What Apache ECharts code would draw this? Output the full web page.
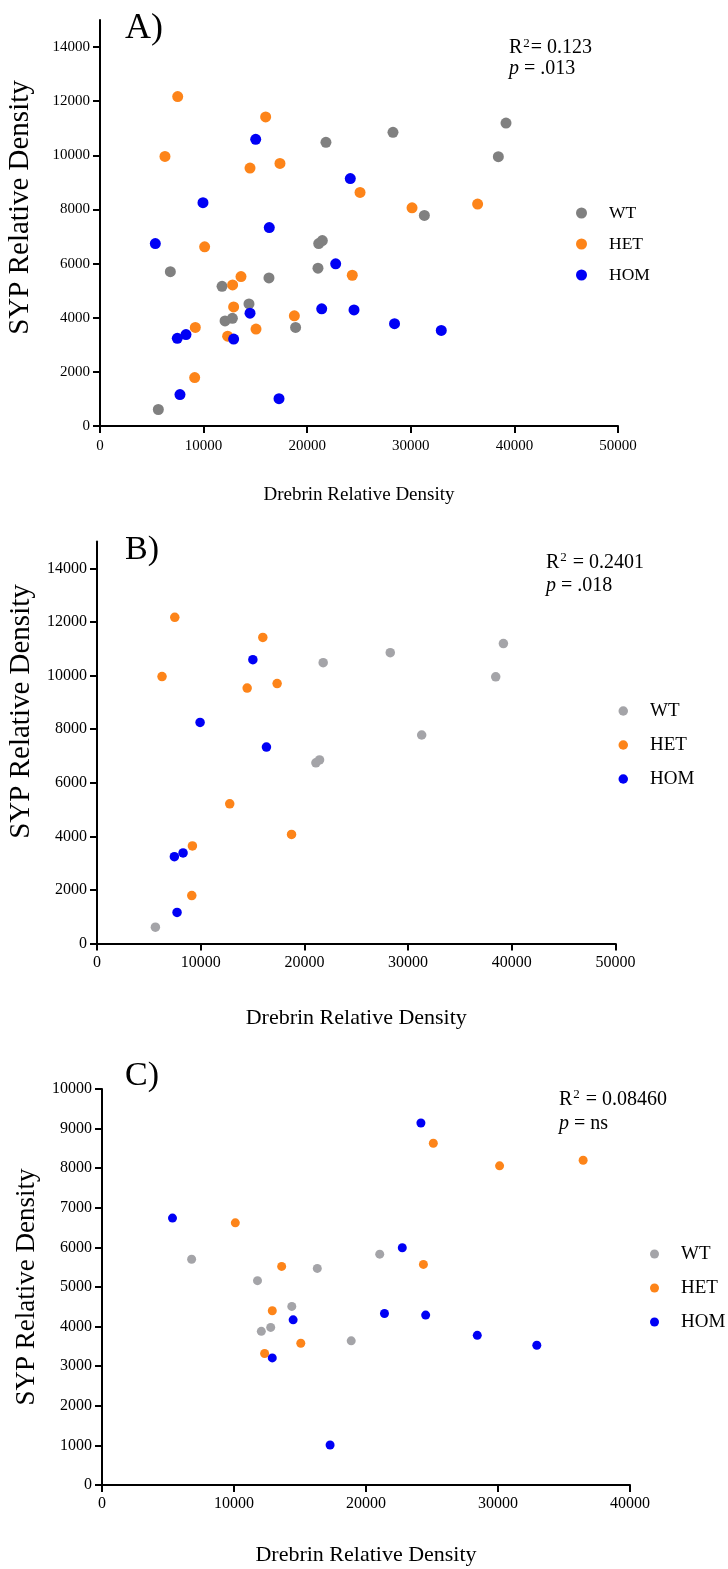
<!DOCTYPE html>
<html>
<head>
<meta charset="utf-8">
<script src="https://cdn.jsdelivr.net/npm/echarts@6/dist/echarts.min.js"></script>
<style>
  html, body { margin: 0; padding: 0; background: #fff; }
  #chart { width: 728px; height: 1569px; }
</style>
</head>
<body>
<div id="chart"></div>
<script>
// points are [drebrin relative density, SYP relative density]
// panel B
var wtB  = [[5630,610],[21110,6740],[21460,6850],[21810,10480],[28280,10850],[31310,7780],[38450,9950],[39190,11190]];
var hetB = [[6270,9960],[7500,12170],[9140,1790],[9200,3640],[12800,5210],[14480,9530],[15990,11420],[17370,9700],[18760,4070]];
var homB = [[7460,3240],[7720,1160],[8300,3380],[9940,8250],[15030,10590],[16340,7330]];
// panel C
var wtC  = [[6790,5700],[11780,5160],[12070,3880],[12780,3980],[14380,4510],[16310,5470],[18880,3640],[21040,5830]];
var hetC = [[10100,6620],[12320,3320],[12900,4400],[13610,5520],[15060,3580],[24350,5570],[25100,8630],[30120,8060],[36450,8200]];
var homC = [[5340,6740],[12900,3210],[14480,4170],[17280,1010],[21400,4330],[22750,5990],[24160,9140],[24520,4290],[28430,3780],[32940,3530]];
// panel A pools all animals
var wtA  = wtB.concat(wtC);
var hetA = hetB.concat(hetC);
var homA = homB.concat(homC);

var groups = ['WT', 'HET', 'HOM'];
var ticksAY = [0, 2000, 4000, 6000, 8000, 10000, 12000, 14000];
var ticksCY = [0, 1000, 2000, 3000, 4000, 5000, 6000, 7000, 8000, 9000, 10000];

var FONT = "'Liberation Serif', 'Times New Roman', serif";
var grayA = '#808080', grayBC = '#a4a4a8', orange = '#fd8419', blue = '#0000f5';

function plain(v) { return String(v); }

function xAxisCfg(idx, max, labelSize, labelMargin, nameSize, gap) {
  return {
    type: 'value', gridIndex: idx, min: 0, max: max, interval: 10000,
    name: 'Drebrin Relative Density', nameLocation: 'middle', nameGap: gap,
    nameTextStyle: { fontFamily: FONT, fontSize: nameSize, color: '#000' },
    axisLine: { lineStyle: { color: '#000', width: 2 } },
    axisTick: { show: true, length: 7, lineStyle: { color: '#000', width: 2 } },
    axisLabel: { fontFamily: FONT, fontSize: labelSize, color: '#000', margin: labelMargin, formatter: plain },
    splitLine: { show: false }
  };
}

function yAxisCfg(idx, max, interval, ticks, labelSize, nameSize, gap, shift) {
  return {
    type: 'value', gridIndex: idx, min: 0, max: max, interval: interval,
    name: 'SYP Relative Density', nameLocation: 'middle', nameGap: gap,
    nameTextStyle: { fontFamily: FONT, fontSize: nameSize, color: '#000', padding: [0, 0, 0, shift] },
    axisLine: { onZero: false, lineStyle: { color: '#000', width: 2 } },
    axisTick: { show: true, length: 7, customValues: ticks, lineStyle: { color: '#000', width: 2 } },
    axisLabel: { fontFamily: FONT, fontSize: labelSize, color: '#000', margin: 10, customValues: ticks, formatter: plain },
    splitLine: { show: false }
  };
}

function scatter(name, data, idx, color, size) {
  return {
    type: 'scatter', name: name, data: data, xAxisIndex: idx, yAxisIndex: idx,
    symbolSize: size, itemStyle: { color: color, opacity: 1 }
  };
}

function legendCfg(left, top, size, gap, fontSize, gray) {
  var colors = [gray, orange, blue];
  return {
    orient: 'vertical', left: left, top: top, padding: 0, icon: 'circle',
    itemWidth: size, itemHeight: size, itemGap: gap, selectedMode: false,
    textStyle: { fontFamily: FONT, fontSize: fontSize, lineHeight: 20, color: '#000', padding: [0, 0, 0, 17] },
    data: groups.map(function (g, i) { return { name: g, itemStyle: { color: colors[i] } }; })
  };
}

var statRich = {
  r: { fontFamily: FONT, fontSize: 20, fontWeight: 'normal', color: '#000' },
  s: { fontFamily: FONT, fontSize: 13, fontWeight: 'normal', color: '#000', verticalAlign: 'top', padding: [0, 1, 0, 1] },
  i: { fontFamily: FONT, fontSize: 20, fontWeight: 'normal', color: '#000', fontStyle: 'italic' }
};

var option = {
  animation: false,
  backgroundColor: '#fff',
  title: [
    { text: 'A)', left: 125, top: 11, padding: 0, textStyle: { fontFamily: FONT, fontSize: 36, fontWeight: 'normal', color: '#000' } },
    { text: 'B)', left: 125, top: 533, padding: 0, textStyle: { fontFamily: FONT, fontSize: 34, fontWeight: 'normal', color: '#000' } },
    { text: 'C)', left: 125, top: 1059, padding: 0, textStyle: { fontFamily: FONT, fontSize: 34, fontWeight: 'normal', color: '#000' } },
    { text: '{r|R}{s|2}{r|= 0.123}\n{i|p}{r| = .013}', left: 509, top: 37, padding: 0,
      textStyle: { fontWeight: 'normal', lineHeight: 21, rich: statRich } },
    { text: '{r|R}{s|2}{r| = 0.2401}\n{i|p}{r| = .018}', left: 546, top: 551, padding: 0,
      textStyle: { fontWeight: 'normal', lineHeight: 23, rich: statRich } },
    { text: '{r|R}{s|2}{r| = 0.08460}\n{i|p}{r| = ns}', left: 559, top: 1088, padding: 0,
      textStyle: { fontWeight: 'normal', lineHeight: 24, rich: statRich } }
  ],
  legend: [
    legendCfg(576, 203, 11, 11, 17.5, grayA),
    legendCfg(618.5, 701, 9.5, 14, 19, grayBC),
    legendCfg(650, 1244, 9, 14, 19, grayBC)
  ],
  grid: [
    { left: 100, top: 20, width: 518, height: 406, outerBoundsMode: 'none', containLabel: false },
    { left: 97, top: 541.5, width: 518.5, height: 402, outerBoundsMode: 'none', containLabel: false },
    { left: 102, top: 1089, width: 528, height: 396, outerBoundsMode: 'none', containLabel: false }
  ],
  xAxis: [
    xAxisCfg(0, 50000, 15, 13, 19, 60),
    xAxisCfg(1, 50000, 16, 11, 22, 64),
    xAxisCfg(2, 40000, 16, 11, 22, 59)
  ],
  yAxis: [
    yAxisCfg(0, 15000, 1000, ticksAY, 15, 29, 65, 31),
    yAxisCfg(1, 15000, 1000, ticksAY, 16, 29, 61, 62),
    yAxisCfg(2, 10000, 1000, ticksCY, 16, 27, 62, 0)
  ],
  series: [
    scatter('WT', wtA, 0, grayA, 11),
    scatter('HET', hetA, 0, orange, 11),
    scatter('HOM', homA, 0, blue, 11),
    scatter('WT', wtB, 1, grayBC, 9.5),
    scatter('HET', hetB, 1, orange, 9.5),
    scatter('HOM', homB, 1, blue, 9.5),
    scatter('WT', wtC, 2, grayBC, 9),
    scatter('HET', hetC, 2, orange, 9),
    scatter('HOM', homC, 2, blue, 9)
  ]
};

var chart = echarts.init(document.getElementById('chart'));
chart.setOption(option);
</script>
</body>
</html>
